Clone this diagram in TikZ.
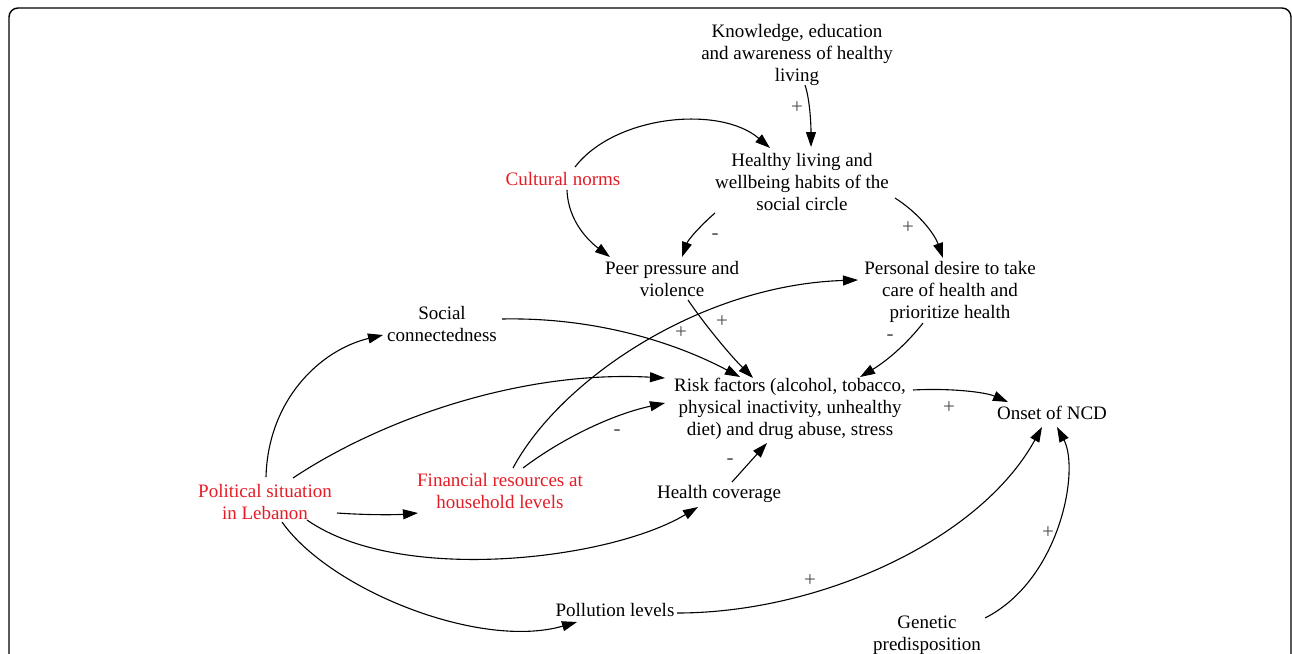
\documentclass[tikz,border=0pt]{standalone}
\usepackage{fontspec}
\setmainfont{Liberation Serif}
\usetikzlibrary{arrows.meta,calc}
\definecolor{vred}{RGB}{228,28,38}
\begin{document}
\begin{tikzpicture}[x=1pt,y=-1pt,
  lbl/.style={font=\fontsize{19}{22}\selectfont,align=center,inner sep=0pt},
  redlbl/.style={lbl,text=vred},
  sgn/.style={font=\fontsize{21}{21}\selectfont,text=black!70,inner sep=0pt},
  conn/.style={line width=1.1pt,-{Triangle[length=15pt,width=10pt]}}]
\useasboundingbox (0,0) rectangle (1292,653);
\draw[line width=1.4pt,rounded corners=9pt] (9,720) -- (9,8) -- (1291,8) -- (1291,720);
% nodes
\node[lbl] (know) at (797,55) {Knowledge, education\\and awareness of healthy\\living};
\node[lbl] (healthy) at (802,182) {Healthy living and\\wellbeing habits of the\\social circle};
\node[redlbl] (cult) at (563,179) {Cultural norms};
\node[lbl] (peer) at (672,279) {Peer pressure and\\violence};
\node[lbl] (desire) at (950,292) {Personal desire to take\\care of health and\\prioritize health};
\node[lbl] (social) at (442,324) {Social\\connectedness};
\node[lbl] (risk) at (790,409) {Risk factors (alcohol, tobacco,\\physical inactivity, unhealthy\\diet) and drug abuse, stress};
\node[lbl] (onset) at (1052,413) {Onset of NCD};
\node[redlbl] (polit) at (265,502) {Political situation\\in Lebanon};
\node[redlbl] (fin) at (500,491) {Financial resources at\\household levels};
\node[lbl] (hcov) at (719,494) {Health coverage};
\node[lbl] (poll) at (615,610) {Pollution levels};
\node[lbl] (gen) at (927,635) {Genetic\\predisposition};
% connectors
\draw[conn] ($(know)+(8,30)$) .. controls (810,100) and (811,125) .. ($(healthy)+(9,-35)$);
\draw[conn] ($(cult)+(12,-12)$) .. controls (615,115) and (720,105) .. ($(healthy)+(-32,-34)$);
\draw[conn] ($(cult)+(4,11)$) .. controls (568,222) and (590,242) .. ($(peer)+(-62,-22)$);
\draw[conn] ($(healthy)+(-87,31)$) .. controls (700,226) and (688,240) .. ($(peer)+(10,-22)$);
\draw[conn] ($(healthy)+(93,16)$) .. controls (920,214) and (935,235) .. ($(desire)+(-7,-34)$);
\draw[conn] ($(peer)+(16,21)$) .. controls (705,325) and (730,355) .. ($(risk)+(-37,-31)$);
\draw[conn] ($(desire)+(-27,31)$) .. controls (905,346) and (885,362) .. ($(risk)+(70,-32)$);
\draw[conn] ($(social)+(60,-5)$) .. controls (600,317) and (680,345) .. ($(risk)+(-50,-32)$);
\draw[conn] ($(fin)+(13,-23)$) .. controls (560,380) and (700,285) .. ($(desire)+(-92,-12)$);
\draw[conn] ($(polit)+(28,-24)$) .. controls (380,420) and (520,370) .. ($(risk)+(-125,-31)$);
\draw[conn] ($(fin)+(23,-23)$) .. controls (560,440) and (610,415) .. ($(risk)+(-125,-6)$);
\draw[conn] ($(polit)+(72,11)$) .. controls (365,515) and (395,515) .. ($(fin)+(-82,22)$);
\draw[conn] ($(polit)+(42,18)$) .. controls (400,585) and (610,560) .. ($(hcov)+(-21,13)$);
\draw[conn] ($(polit)+(1,-25)$) .. controls (268,400) and (320,350) .. ($(social)+(-59,11)$);
\draw[conn] ($(polit)+(17,20)$) .. controls (330,590) and (480,650) .. ($(poll)+(-38,12)$);
\draw[conn] ($(hcov)+(13,-12)$) -- ($(risk)+(-23,34)$);
\draw[conn] ($(risk)+(123,-19)$) .. controls (950,388) and (985,392) .. ($(onset)+(-44,-11)$);
\draw[conn] ($(poll)+(62,3)$) .. controls (820,613) and (980,540) .. ($(onset)+(-10,14)$);
\draw[conn] ($(gen)+(58,-17)$) .. controls (1060,580) and (1080,470) .. ($(onset)+(5,14)$);
% polarity signs
\node[sgn] (s1) at (797,108) {+};
\node[sgn] (s2) at (715,237) {-};
\node[sgn] (s3) at (908,228) {+};
\node[sgn] (s4) at (722,322) {+};
\node[sgn] (s5) at (681,333) {+};
\node[sgn] (s6) at (890,338) {-};
\node[sgn] (s7) at (617,433) {-};
\node[sgn] (s8) at (730,462) {-};
\node[sgn] (s9) at (949,408) {+};
\node[sgn] (s10) at (810,581) {+};
\node[sgn] (s11) at (1048,533) {+};
\end{tikzpicture}
\end{document}
